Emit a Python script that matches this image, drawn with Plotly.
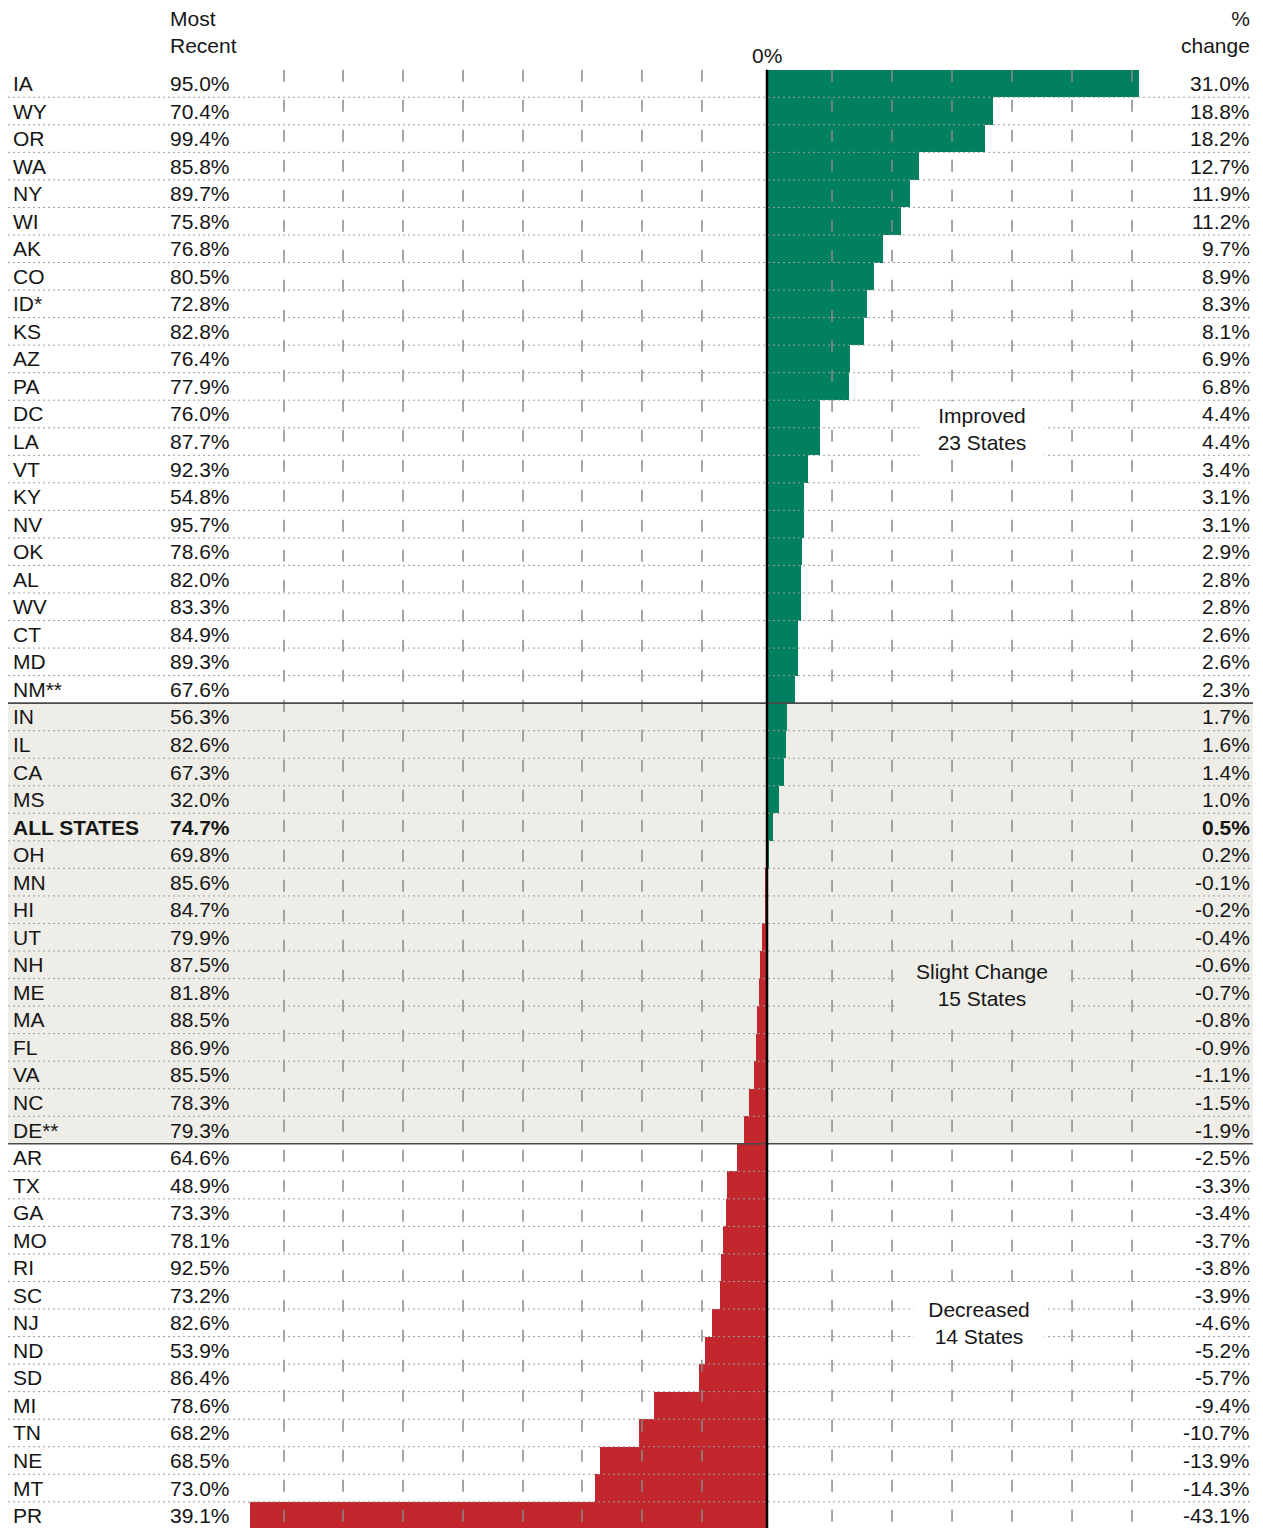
import plotly.graph_objects as go

states = ["IA", "WY", "OR", "WA", "NY", "WI", "AK", "CO", "ID*", "KS", "AZ", "PA", "DC", "LA",
          "VT", "KY", "NV", "OK", "AL", "WV", "CT", "MD", "NM**",
          "IN", "IL", "CA", "MS", "ALL STATES", "OH", "MN", "HI", "UT", "NH", "ME", "MA", "FL",
          "VA", "NC", "DE**",
          "AR", "TX", "GA", "MO", "RI", "SC", "NJ", "ND", "SD", "MI", "TN", "NE", "MT", "PR"]
most_recent = [95.0, 70.4, 99.4, 85.8, 89.7, 75.8, 76.8, 80.5, 72.8, 82.8, 76.4, 77.9, 76.0, 87.7,
               92.3, 54.8, 95.7, 78.6, 82.0, 83.3, 84.9, 89.3, 67.6,
               56.3, 82.6, 67.3, 32.0, 74.7, 69.8, 85.6, 84.7, 79.9, 87.5, 81.8, 88.5, 86.9,
               85.5, 78.3, 79.3,
               64.6, 48.9, 73.3, 78.1, 92.5, 73.2, 82.6, 53.9, 86.4, 78.6, 68.2, 68.5, 73.0, 39.1]
pct_change = [31.0, 18.8, 18.2, 12.7, 11.9, 11.2, 9.7, 8.9, 8.3, 8.1, 6.9, 6.8, 4.4, 4.4,
              3.4, 3.1, 3.1, 2.9, 2.8, 2.8, 2.6, 2.6, 2.3,
              1.7, 1.6, 1.4, 1.0, 0.5, 0.2, -0.1, -0.2, -0.4, -0.6, -0.7, -0.8, -0.9,
              -1.1, -1.5, -1.9,
              -2.5, -3.3, -3.4, -3.7, -3.8, -3.9, -4.6, -5.2, -5.7, -9.4, -10.7, -13.9, -14.3, -43.1]
group_labels = ["Improved<br>23 States", "Slight Change<br>15 States", "Decreased<br>14 States"]
group_sizes = [23, 16, 14]  # rows per block (slight-change block includes ALL STATES row)
header_left = "Most<br>Recent"
header_right = "%<br>change"
zero_label = "0%"
grid_pct = [-40.25, -35.33, -30.33, -25.33, -20.33, -15.42, -10.42, -5.42,
            5.42, 10.42, 15.42, 20.42, 25.42, 30.42]

# page body has an 8px margin; figure coordinates are viewport minus 8
OFF = 8
W, H = 1263 - OFF, 1528 - OFF
PX_PER_PCT = 12.0
ZERO_PX = 767 - OFF
ROW_H = 27.54
ROW0_PX = 83.5 - OFF
FONT = "Arial, 'Liberation Sans', sans-serif"
FS = 21
TXT = "#161616"
GREEN = "#00805f"
RED = "#c1272d"
BAND = "#eeede7"

n = len(states)
rows = list(range(n))

fig = go.Figure()
fig.add_trace(go.Bar(
    x=pct_change, y=rows, orientation="h", width=1.0,
    marker=dict(color=[GREEN if v >= 0 else RED for v in pct_change], line=dict(width=0)),
    hoverinfo="skip", showlegend=False,
))

shapes = []
b1 = group_sizes[0] - 0.5
b2 = group_sizes[0] + group_sizes[1] - 0.5
x_left = (8 - OFF) / W
x_right = (1253 - OFF) / W
# shaded band for slight change
shapes.append(dict(type="rect", xref="paper", yref="y", x0=x_left, x1=x_right, y0=b1, y1=b2,
                   fillcolor=BAND, line=dict(width=0), layer="below"))
# vertical dashed grid
for g in grid_pct:
    shapes.append(dict(type="line", xref="x", yref="y", x0=g, x1=g, y0=-0.5, y1=n + 1,
                       line=dict(color="#8a8a8a", width=1.5, dash="12px,18px"), layer="above"))
# row separators
for i in range(n - 1):
    yb = i + 0.5
    if abs(yb - b1) < 1e-9 or abs(yb - b2) < 1e-9:
        continue
    shapes.append(dict(type="line", xref="paper", yref="y", x0=x_left, x1=x_right, y0=yb, y1=yb,
                       line=dict(color="#9c9c9c", width=1, dash="2px,3px"), layer="above"))
for yb in (b1, b2):
    shapes.append(dict(type="line", xref="paper", yref="y", x0=x_left, x1=x_right, y0=yb, y1=yb,
                       line=dict(color="#4a4a4a", width=1.6), layer="above"))
# zero line
shapes.append(dict(type="line", xref="x", yref="y", x0=0, x1=0, y0=-0.5, y1=n + 1,
                   line=dict(color="#000000", width=2.5), layer="above"))

annotations = []
for i, (s, r, c) in enumerate(zip(states, most_recent, pct_change)):
    bold = s == "ALL STATES"
    f = dict(family=FONT, size=FS, color=TXT)
    t_s = f"<b>{s}</b>" if bold else s
    t_r = f"<b>{r:.1f}%</b>" if bold else f"{r:.1f}%"
    t_c = f"<b>{c:.1f}%</b>" if bold else f"{c:.1f}%"
    annotations.append(dict(xref="paper", yref="y", x=3 / W, y=i, text=t_s, showarrow=False,
                            xanchor="left", yanchor="middle", font=f))
    annotations.append(dict(xref="paper", yref="y", x=160 / W, y=i, text=t_r, showarrow=False,
                            xanchor="left", yanchor="middle", font=f))
    annotations.append(dict(xref="paper", yref="y", x=1244 / W, y=i, text=t_c, showarrow=False,
                            xanchor="right", yanchor="middle", font=f))

# headers
annotations.append(dict(xref="paper", yref="paper", x=160 / W, y=1 - 24 / H, text=header_left,
                        showarrow=False, xanchor="left", yanchor="middle", align="left",
                        font=dict(family=FONT, size=FS, color=TXT)))
annotations.append(dict(xref="paper", yref="paper", x=1244 / W, y=1 - 24 / H, text=header_right,
                        showarrow=False, xanchor="right", yanchor="middle", align="right",
                        font=dict(family=FONT, size=FS, color=TXT)))
annotations.append(dict(xref="x", yref="paper", x=0, y=1 - 47 / H, text=zero_label,
                        showarrow=False, xanchor="center", yanchor="middle",
                        font=dict(family=FONT, size=FS, color=TXT)))

# group labels
label_pos = [(17.9, 12.55, 124, "white"), (17.9, 32.75, 174, BAND), (17.7, 45.0, 130, "white")]
for txt, (gx, gy, bw, bg) in zip(group_labels, label_pos):
    annotations.append(dict(xref="x", yref="y", x=gx, y=gy, text=txt, showarrow=False,
                            xanchor="center", yanchor="middle", align="center",
                            width=bw, height=54, bgcolor=bg, borderpad=0,
                            font=dict(family=FONT, size=FS, color=TXT)))

top_val = -ROW0_PX / ROW_H
bot_val = (H - ROW0_PX) / ROW_H
fig.update_layout(
    width=W, height=H,
    margin=dict(l=0, r=0, t=0, b=0),
    paper_bgcolor="white", plot_bgcolor="rgba(0,0,0,0)",
    xaxis=dict(range=[-ZERO_PX / PX_PER_PCT, (W - ZERO_PX) / PX_PER_PCT], visible=False,
               fixedrange=True),
    yaxis=dict(range=[bot_val, top_val], visible=False, fixedrange=True),
    shapes=shapes, annotations=annotations,
    showlegend=False, bargap=0,
)

fig.write_html("out.html")
